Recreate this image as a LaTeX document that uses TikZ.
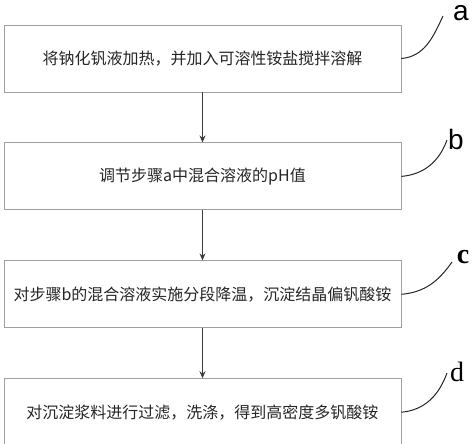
\documentclass[tikz,border=0pt]{standalone}
\usepackage{fontspec}
\usepackage{tikz}
\usetikzlibrary{positioning,arrows.meta}
\newfontfamily\cjk{Noto Sans CJK SC}
\newfontfamily\lblserif{Liberation Serif}
\newfontfamily\lblsans{Liberation Sans}
\definecolor{boxgrey}{RGB}{160,160,160}
\definecolor{arrgrey}{RGB}{60,60,60}
\tikzset{
  stepbox/.style={draw=boxgrey, line width=0.9pt, fill=white,
                  minimum width=397pt, minimum height=67pt, inner sep=0pt,
                  font=\cjk\fontsize{16}{19}\selectfont, text=black!85},
  flow/.style={-{Stealth[length=7pt,width=6pt]}, line width=0.9pt, color=arrgrey},
  lead/.style={line width=1pt, color=black!85},
  tag/.style={anchor=base, inner sep=0pt, font=\lblserif\fontsize{28}{28}\selectfont},
}
\begin{document}
\begin{tikzpicture}[x=1pt,y=-1pt,node distance=50pt]
\useasboundingbox (0,0) rectangle (474,444);
% process steps
\node[stepbox] (sa) at (202.5,58.5) {将钠化钒液加热，并加入可溶性铵盐搅拌溶解};
\node[stepbox, below=of sa] (sb) {调节步骤a中混合溶液的pH值};
\node[stepbox, below=of sb] (sc) {对步骤b的混合溶液实施分段降温，沉淀结晶偏钒酸铵};
\node[stepbox, below=of sc] (sd) {对沉淀浆料进行过滤，洗涤，得到高密度多钒酸铵};
\draw[flow] (sa) -- (sb);
\draw[flow] (sb) -- (sc);
\draw[flow] (sc) -- (sd);
% step tags
\node[tag, font=\lblsans\fontsize{28}{28}\selectfont] (ta) at (461,21) {a};
\node[tag, font=\lblsans\fontsize{28}{28}\selectfont] (tb) at (456,149) {b};
\node[tag, font=\lblserif\bfseries\fontsize{28}{28}\selectfont] (tc) at (463,263) {c};
\node[tag] (td) at (457,381) {d};
\coordinate (ea) at (443,16);
\coordinate (eb) at (447,140);
\coordinate (ec) at (452,262);
\coordinate (ed) at (447,373);
\draw[lead] (sa.east) to[out=5,in=-115] (ea);
\draw[lead] (sb.east) to[out=5,in=-110] (eb);
\draw[lead] (sc.east) to[out=5,in=-125] (ec);
\draw[lead] (sd.east) to[out=5,in=-110] (ed);
\end{tikzpicture}
\end{document}
